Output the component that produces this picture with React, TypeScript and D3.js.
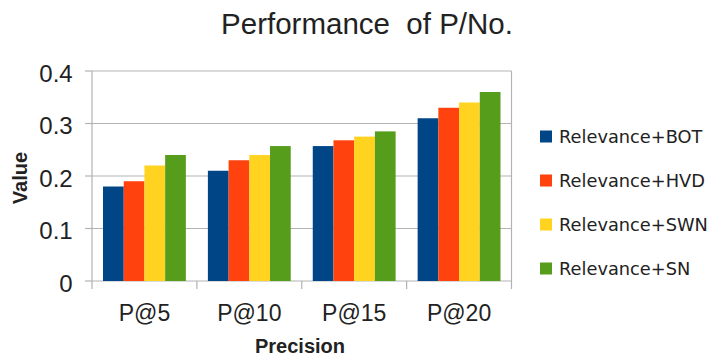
import React from "react";
import * as d3 from "d3";

const categories = ["P@5", "P@10", "P@15", "P@20"];
const seriesNames = ["Relevance+BOT", "Relevance+HVD", "Relevance+SWN", "Relevance+SN"];
const botValues = [0.18, 0.21, 0.257, 0.31];
const hvdValues = [0.19, 0.23, 0.268, 0.33];
const swnValues = [0.22, 0.24, 0.275, 0.34];
const snValues = [0.24, 0.257, 0.285, 0.36];
const yTicks = [0, 0.1, 0.2, 0.3, 0.4];
const colors = ["#004586", "#ff420e", "#ffd320", "#579d1c"];

const W = 716, H = 356;
const left = 92, right = 511.5, top = 71, bottom = 281;

export default function App() {
  const series = [botValues, hvdValues, swnValues, snValues];
  const x0 = d3.scaleBand<string>().domain(categories).range([left, right]).paddingInner(0.21).paddingOuter(0.105);
  const x1 = d3.scaleBand<number>().domain([0, 1, 2, 3]).range([0, x0.bandwidth()]);
  const y = d3.scaleLinear().domain([0, 0.4]).range([bottom, top]);
  const step = (right - left) / categories.length;
  const font = "'Liberation Sans', Arial, sans-serif";
  const legendFont = "'DejaVu Sans', Verdana, sans-serif";
  return (
    <svg width={W} height={H} style={{ position: "absolute", left: 0, top: 0 }}>
      <rect width={W} height={H} fill="#fff" />
      <text x={367} y={34} textAnchor="middle" fontFamily={font} fontSize={29.5} fill="#222" style={{ whiteSpace: "pre" }}>
        Performance  of P/No.
      </text>
      {yTicks.map((t) => (
        <g key={t}>
          <line x1={left} x2={right} y1={y(t)} y2={y(t)} stroke="#b3b3b3" strokeWidth={1.2} />
          <line x1={left - 7} x2={left} y1={y(t)} y2={y(t)} stroke="#b3b3b3" strokeWidth={1.2} />
          <text x={72.7} y={y(t) + 10.5} textAnchor="end" fontFamily={font} fontSize={24} fill="#222">
            {t === 0 ? "0" : String(t)}
          </text>
        </g>
      ))}
      <line x1={left} x2={left} y1={top} y2={bottom} stroke="#b3b3b3" strokeWidth={1.2} />
      <line x1={right} x2={right} y1={top} y2={bottom} stroke="#b3b3b3" strokeWidth={1.2} />
      {d3.range(categories.length + 1).map((i) => (
        <line key={i} x1={left + i * step} x2={left + i * step} y1={bottom} y2={bottom + 8} stroke="#b3b3b3" strokeWidth={1.2} />
      ))}
      {categories.map((c, ci) => (
        <g key={c}>
          {series.map((s, si) => (
            <rect
              key={si}
              x={(x0(c) ?? 0) + (x1(si) ?? 0)}
              y={y(s[ci])}
              width={x1.bandwidth()}
              height={bottom - y(s[ci])}
              fill={colors[si]}
            />
          ))}
          <text x={(x0(c) ?? 0) + x0.bandwidth() / 2} y={320.7} textAnchor="middle" fontFamily={font} fontSize={23} fill="#222">
            {c}
          </text>
        </g>
      ))}
      <text x={300} y={353} textAnchor="middle" fontFamily={font} fontSize={20} fontWeight="bold" fill="#222">
        Precision
      </text>
      <text transform="translate(27,178) rotate(-90)" textAnchor="middle" fontFamily={font} fontSize={20} fontWeight="bold" fill="#222">
        Value
      </text>
      {seriesNames.map((n, i) => {
        const cy = 136.5 + i * 44;
        return (
          <g key={n}>
            <rect x={540} y={cy - 6} width={12} height={12} fill={colors[i]} />
            <text x={559} y={cy + 6.4} fontFamily={legendFont} fontSize={17.8} fill="#222">
              {n}
            </text>
          </g>
        );
      })}
    </svg>
  );
}
